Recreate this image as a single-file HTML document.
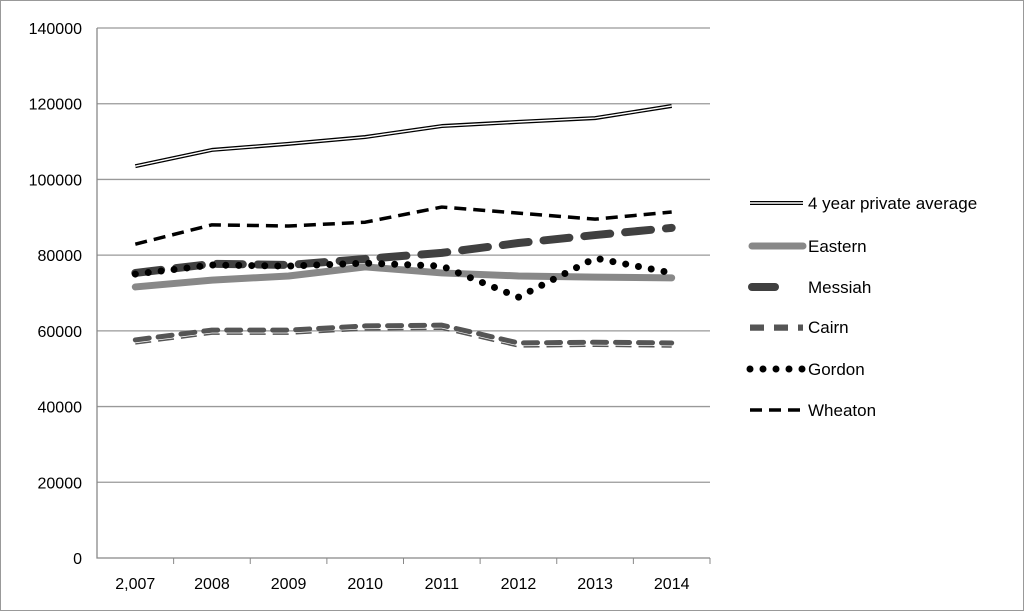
<!DOCTYPE html>
<html><head><meta charset="utf-8"><style>
body{margin:0;background:#fff}
svg text{font-family:"Liberation Sans",sans-serif;fill:#000}
</style></head><body>
<svg width="1024" height="611">
<rect x="0.5" y="0.5" width="1023" height="610" fill="#fff" stroke="#999"/>
<g id="grid"></g><g id="series"></g><g id="legend"></g>
</svg>
<script>
const categories=["2,007","2008","2009","2010","2011","2012","2013","2014"];
const yTicks=[0,20000,40000,60000,80000,100000,120000,140000];
const avg=[103500,107800,109400,111200,114100,115200,116200,119400];
const eastern=[71600,73400,74500,76900,75300,74500,74200,74000];
const messiah=[75300,77700,77400,79000,80600,83200,85300,87200];
const cairn=[57600,60200,60200,61300,61500,56800,57000,56800];
const gordon=[75000,77400,77100,77900,77100,68900,79200,75300];
const wheaton=[82900,88000,87700,88700,92700,91100,89500,91400];
const names=["4 year private average","Eastern","Messiah","Cairn","Gordon","Wheaton"];

const NS="http://www.w3.org/2000/svg";
const X0=97,X1=710,Y0=558,Y1=28,YMAX=140000;
const xs=i=>X0+(i+0.5)*(X1-X0)/categories.length;
const ys=v=>Y0-v*(Y0-Y1)/YMAX;
function mk(p,t,a){const e=document.createElementNS(NS,t);for(const k in a)e.setAttribute(k,a[k]);p.appendChild(e);return e;}
const grid=document.getElementById('grid'),ser=document.getElementById('series'),leg=document.getElementById('legend');
yTicks.forEach(v=>{
  if(v>0){const l=mk(grid,'line',{x1:X0,x2:X1,y1:ys(v),y2:ys(v),stroke:'#999','stroke-width':1.3});
  
  }
  const t=mk(grid,'text',{x:82,y:ys(v)+6,'text-anchor':'end','font-size':16});t.textContent=v;
  
  
});
const ax=mk(grid,'path',{d:`M${X0} ${Y1}V${Y0}H${X1}`,fill:'none',stroke:'#888','stroke-width':1.3});


categories.forEach((c,i)=>{
  const x=X0+(i+1)*(X1-X0)/categories.length;
  mk(grid,'line',{x1:x,x2:x,y1:Y0,y2:Y0+6,stroke:'#888'});
  const t=mk(grid,'text',{x:xs(i),y:589,'text-anchor':'middle','font-size':16});t.textContent=c;
  
  
});
const styles=[
 [{stroke:'#000','stroke-width':4},{stroke:'#fff','stroke-width':1.4}],
 [{stroke:'#888','stroke-width':7,'stroke-linecap':'round'}],
 [{stroke:'#404040','stroke-width':8,'stroke-dasharray':'26 15','stroke-linecap':'round'}],
 [{stroke:'#555','stroke-width':5,'stroke-dasharray':'14 9','stroke-linecap':'round'},{stroke:'#555','stroke-width':1.5,'stroke-dasharray':'16 7',transform:'translate(0,4)'}],
 [{stroke:'#000','stroke-width':7,'stroke-dasharray':'0 13','stroke-linecap':'round'}],
 [{stroke:'#000','stroke-width':3.5,'stroke-dasharray':'12 7'}]
];
const data=[avg,eastern,messiah,cairn,gordon,wheaton];
const order=[1,0,3,2,5,4];
order.forEach(s=>{
  const d=data[s].map((v,i)=>(i?'L':'M')+xs(i)+' '+ys(v)).join('');
  styles[s].forEach(st=>{
    const p=mk(ser,'path',Object.assign({d,fill:'none','stroke-linejoin':'round'},st));
    
    
  });
});
const legY=[203,246,287,327,369,410];
names.forEach((n,s)=>{
  const y=legY[s];
  let x2=803;if(s==2)x2=775;
  const d=`M${s==2||s==1?752:750} ${y}H${x2}`;
  styles[s].forEach(st=>{
    const a=Object.assign({d,fill:'none'},st);
    if(s==3){a['stroke-dasharray']='14 10';a['stroke-linecap']='butt';}
    if(s==3&&st.transform){a.transform='translate(0,3)';}
    if(s==2){a['stroke-dasharray']='none';}
    const p=mk(leg,'path',a);
    
    
  });
  const t=mk(leg,'text',{x:808,y:y+6,'font-size':17});t.textContent=n;
  
  
});
</script>
</body></html>
